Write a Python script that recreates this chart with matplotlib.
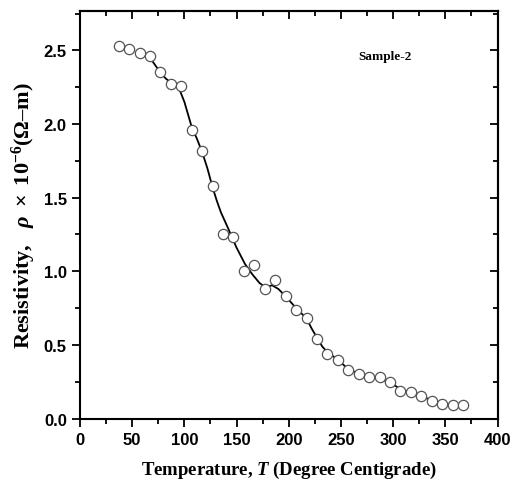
import matplotlib
matplotlib.use("Agg")
import matplotlib.pyplot as plt
from matplotlib.ticker import MultipleLocator, FormatStrFormatter

# measured points (temperature in deg C, resistivity in 1e-6 ohm-m)
temps = [37, 47, 57, 67, 77, 87, 97, 107, 117, 127, 137, 147, 157, 167, 177, 187, 197,
         207, 217, 227, 237, 247, 257, 267, 277, 287, 297, 307, 317, 327, 337, 347, 357, 367]
rho = [2.53, 2.51, 2.48, 2.46, 2.35, 2.27, 2.26, 1.96, 1.82, 1.58, 1.25, 1.23, 1.00, 1.04,
       0.88, 0.94, 0.83, 0.74, 0.68, 0.54, 0.44, 0.40, 0.33, 0.30, 0.28, 0.28, 0.25, 0.19,
       0.18, 0.15, 0.12, 0.10, 0.09, 0.09]

# smooth guide curve
curve_t = [62, 67, 72, 77, 82, 87, 91, 95, 100, 107, 112, 117, 122, 127, 131, 135, 142, 150,
           158, 165, 172, 177, 180, 184, 190, 197, 207, 217, 222, 227, 232, 237, 247, 257,
           267, 277, 287, 297, 307, 317, 327, 337, 347, 353]
curve_rho = [2.48, 2.45, 2.40, 2.35, 2.31, 2.28, 2.26, 2.24, 2.15, 1.98, 1.90, 1.81, 1.70,
             1.57, 1.48, 1.40, 1.29, 1.16, 1.05, 0.98, 0.92, 0.895, 0.895, 0.905, 0.88, 0.83,
             0.75, 0.68, 0.61, 0.55, 0.49, 0.45, 0.40, 0.335, 0.305, 0.28, 0.27, 0.245, 0.20,
             0.175, 0.15, 0.125, 0.105, 0.095]

plt.rcParams['mathtext.fontset'] = 'custom'
plt.rcParams['mathtext.rm'] = 'Liberation Serif:bold'
plt.rcParams['mathtext.it'] = 'Liberation Serif:bold:italic'
plt.rcParams['mathtext.bf'] = 'Liberation Serif:bold'

fig = plt.figure(figsize=(5.11, 4.85), dpi=100)
ax = fig.add_axes([0.1566, 0.135, 0.817, 0.841])

ax.plot(curve_t, curve_rho, color='black', linewidth=1.3, zorder=2)
ax.plot(temps, rho, linestyle='none', marker='o', markersize=7.4,
        markerfacecolor='white', markeredgecolor='#555555', markeredgewidth=0.9, zorder=3)

ax.set_xlim(0, 400)
ax.set_ylim(0, 2.77)
ax.xaxis.set_major_locator(MultipleLocator(50))
ax.xaxis.set_minor_locator(MultipleLocator(25))
ax.yaxis.set_major_locator(MultipleLocator(0.5))
ax.yaxis.set_minor_locator(MultipleLocator(0.25))
ax.yaxis.set_major_formatter(FormatStrFormatter('%.1f'))

for s in ax.spines.values():
    s.set_linewidth(1.5)

ax.tick_params(which='both', direction='out', width=1.3, top=False, right=False)
ax.tick_params(which='major', length=6)
ax.tick_params(which='minor', length=3.5)
for lbl in ax.get_xticklabels() + ax.get_yticklabels():
    lbl.set_fontfamily('Liberation Sans')
    lbl.set_fontweight('bold')
    lbl.set_fontsize(12)

# inward ticks on the top and right edges
ax2 = ax.secondary_xaxis('top')
ax2.xaxis.set_major_locator(MultipleLocator(50))
ax2.xaxis.set_minor_locator(MultipleLocator(25))
ax2.tick_params(which='both', direction='in', labeltop=False, width=1.3)
ax2.tick_params(which='major', length=6)
ax2.tick_params(which='minor', length=3.5)
ax2.spines['top'].set_linewidth(1.5)
ay2 = ax.secondary_yaxis('right')
ay2.yaxis.set_major_locator(MultipleLocator(0.5))
ay2.yaxis.set_minor_locator(MultipleLocator(0.25))
ay2.tick_params(which='both', direction='in', labelright=False, width=1.3)
ay2.tick_params(which='major', length=6)
ay2.tick_params(which='minor', length=3.5)
ay2.spines['right'].set_linewidth(1.5)

ax.set_xlabel(r'Temperature, $T$ (Degree Centigrade)', fontfamily='Liberation Serif',
              fontweight='bold', fontsize=13.5, labelpad=9)
ax.set_ylabel('Resistivity,  $\\ \\rho\\ \\times\\ 10^{-6}$(\u03a9\u2013m)',
              fontfamily='Liberation Serif', fontweight='bold', fontsize=16, labelpad=4)

ax.text(292, 2.46, 'Sample-2', fontfamily='Liberation Serif', fontweight='bold',
        fontsize=9.5, ha='center', va='center')

fig.savefig('out.png', dpi=100)
